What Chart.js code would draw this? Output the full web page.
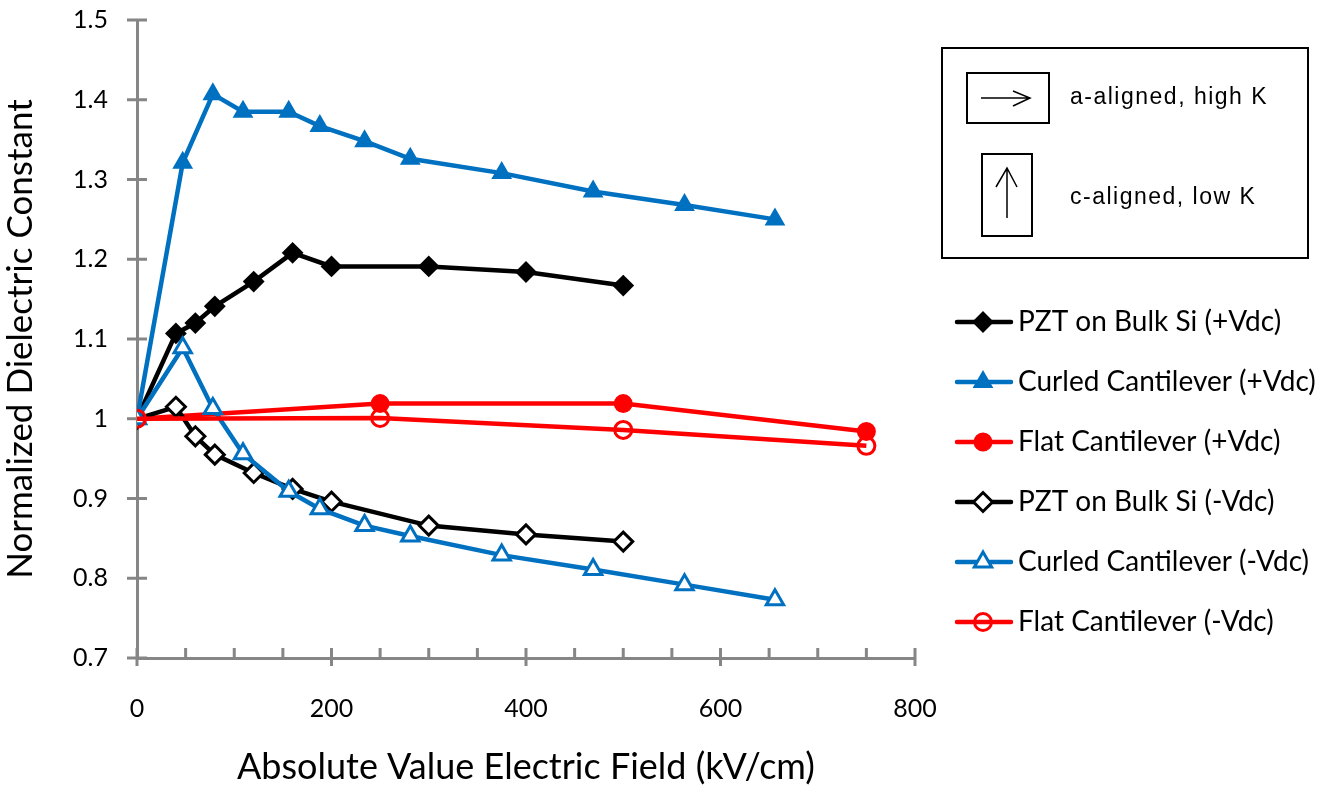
<!DOCTYPE html>
<html>
<head>
<meta charset="utf-8">
<title>Normalized Dielectric Constant</title>
<script src="https://cdn.jsdelivr.net/npm/chart.js@4.4.1/dist/chart.umd.min.js"></script>
<style>
  html, body { margin: 0; padding: 0; background: #fff; }
  #wrap { width: 1337px; height: 789px; }
</style>
</head>
<body>
<div id="wrap"><canvas id="chart" width="1337" height="789"></canvas></div>
<script>
// electric field values (kV/cm) for each sample type
const pztField = [0, 40, 60, 80, 120, 160, 200, 300, 400, 500];
const curledField = [0, 47, 78, 109, 156, 188, 234, 281, 375, 469, 563, 656];
const flatField = [0, 250, 500, 750];

// normalized dielectric constant
const pztPos = [1.0, 1.107, 1.12, 1.141, 1.172, 1.208, 1.191, 1.191, 1.184, 1.167];
const curledPos = [1.0, 1.321, 1.407, 1.385, 1.385, 1.367, 1.348, 1.326, 1.308, 1.285, 1.268, 1.25];
const flatPos = [1.0, 1.019, 1.019, 0.984];
const pztNeg = [1.0, 1.015, 0.978, 0.955, 0.932, 0.912, 0.896, 0.866, 0.855, 0.846];
const curledNeg = [1.0, 1.089, 1.013, 0.956, 0.909, 0.887, 0.866, 0.853, 0.829, 0.811, 0.792, 0.773];
const flatNeg = [1.0, 1.001, 0.986, 0.966];

const seriesNames = [
    "PZT on Bulk Si (+Vdc)",
    "Curled Cantilever (+Vdc)",
    "Flat Cantilever (+Vdc)",
    "PZT on Bulk Si (-Vdc)",
    "Curled Cantilever (-Vdc)",
    "Flat Cantilever (-Vdc)"
];

const boxNotes = ["a-aligned, high K", "c-aligned, low K"];

const xTitle = "Absolute Value Electric Field (kV/cm)";
const yTitle = "Normalized Dielectric Constant";

const BLACK = "#000000";
const BLUE = "#0070C0";
const RED = "#FF0000";
const AXIS = "#868686";
const FONT = "Lato, 'Open Sans', sans-serif";

function toPoints(xs, ys) {
    return xs.map((x, i) => ({ x: x, y: ys[i] }));
}

function makeSet(label, xs, ys, color, style, filled, order) {
    return {
        label: label,
        data: toPoints(xs, ys),
        showLine: true,
        borderColor: color,
        borderWidth: 4.5,
        tension: 0,
        pointStyle: style,
        pointRadius: style === "triangle" ? 10 : (style === "rectRot" ? 9.5 : 8.5),
        pointBorderColor: color,
        pointBorderWidth: filled ? 2 : 3,
        pointBackgroundColor: filled ? color : (style === "circle" ? "rgba(0,0,0,0)" : "#ffffff"),
        order: order
    };
}

const datasets = [
    makeSet(seriesNames[0], pztField, pztPos, BLACK, "rectRot", true, 5),
    makeSet(seriesNames[1], curledField, curledPos, BLUE, "triangle", true, 4),
    makeSet(seriesNames[2], flatField, flatPos, RED, "circle", true, 3),
    makeSet(seriesNames[3], pztField, pztNeg, BLACK, "rectRot", false, 2),
    makeSet(seriesNames[4], curledField, curledNeg, BLUE, "triangle", false, 1),
    makeSet(seriesNames[5], flatField, flatNeg, RED, "circle", false, 0)
];

// tick marks crossing the axes, plus minor ticks on x
const axisTicks = {
    id: "axisTicks",
    beforeDatasetsDraw(chart) {
        const ctx = chart.ctx;
        const xs = chart.scales.x;
        const ys = chart.scales.y;
        const area = chart.chartArea;
        ctx.save();
        ctx.strokeStyle = AXIS;
        ctx.lineWidth = 3;
        ctx.beginPath();
        for (let v = xs.min; v <= xs.max; v += 50) {
            const px = xs.getPixelForValue(v);
            const major = v % 200 === 0;
            ctx.moveTo(px, area.bottom + (major ? 8 : 0));
            ctx.lineTo(px, area.bottom - 10);
        }
        ys.ticks.forEach(t => {
            const py = ys.getPixelForValue(t.value);
            ctx.moveTo(area.left - 10, py);
            ctx.lineTo(area.left + 10, py);
        });
        ctx.stroke();
        ctx.restore();
    }
};

function drawMarker(ctx, ds, x, y) {
    ctx.save();
    ctx.lineWidth = ds.pointBorderWidth;
    ctx.strokeStyle = ds.pointBorderColor;
    ctx.fillStyle = ds.pointBackgroundColor;
    const r = ds.pointRadius;
    ctx.beginPath();
    if (ds.pointStyle === "rectRot") {
        ctx.moveTo(x - r, y);
        ctx.lineTo(x, y - r);
        ctx.lineTo(x + r, y);
        ctx.lineTo(x, y + r);
        ctx.closePath();
    } else if (ds.pointStyle === "triangle") {
        ctx.moveTo(x, y - r);
        ctx.lineTo(x + r * Math.sin(2 * Math.PI / 3), y + r / 2);
        ctx.lineTo(x - r * Math.sin(2 * Math.PI / 3), y + r / 2);
        ctx.closePath();
    } else {
        ctx.arc(x, y, r, 0, Math.PI * 2);
    }
    ctx.fill();
    ctx.stroke();
    ctx.restore();
}

// series legend on the right + the orientation key box
const sideNotes = {
    id: "sideNotes",
    afterDraw(chart) {
        const ctx = chart.ctx;
        ctx.save();

        // series legend
        chart.data.datasets.forEach((ds, i) => {
            const y = 322 + i * 60;
            ctx.strokeStyle = ds.borderColor;
            ctx.lineWidth = 4.5;
            ctx.lineCap = "round";
            ctx.beginPath();
            ctx.moveTo(957, y);
            ctx.lineTo(1011, y);
            ctx.stroke();
            drawMarker(ctx, ds, 983, y);
            ctx.fillStyle = BLACK;
            ctx.font = "28px " + FONT;
            ctx.textBaseline = "middle";
            ctx.textAlign = "left";
            ctx.fillText(ds.label, 1018, y);
        });

        // key box
        ctx.strokeStyle = BLACK;
        ctx.lineWidth = 2;
        ctx.lineCap = "butt";
        ctx.strokeRect(942, 48, 366, 210);
        ctx.strokeRect(967, 73, 82, 50);
        ctx.strokeRect(982, 154, 50, 82);

        ctx.lineWidth = 1.5;
        ctx.beginPath();
        ctx.moveTo(981, 98);
        ctx.lineTo(1030, 98);
        ctx.moveTo(1013, 91);
        ctx.lineTo(1030, 98);
        ctx.lineTo(1013, 106);
        ctx.moveTo(1007, 218);
        ctx.lineTo(1007, 168);
        ctx.moveTo(996, 187);
        ctx.lineTo(1007, 168);
        ctx.lineTo(1017, 187);
        ctx.stroke();

        ctx.fillStyle = BLACK;
        ctx.font = "23px 'Liberation Sans', Arial, sans-serif";
        ctx.letterSpacing = "1.5px";
        ctx.textBaseline = "middle";
        ctx.fillText(boxNotes[0], 1070, 98);
        ctx.fillText(boxNotes[1], 1070, 198);
        ctx.restore();
    }
};

function buildChart() {
    const ctx = document.getElementById("chart").getContext("2d");
    new Chart(ctx, {
        type: "scatter",
        data: { datasets: datasets },
        options: {
            responsive: false,
            animation: false,
            devicePixelRatio: 1,
            layout: { padding: { top: 20, right: 422, left: 0, bottom: 0 } },
            plugins: {
                legend: { display: false },
                tooltip: { enabled: false }
            },
            scales: {
                x: {
                    type: "linear",
                    min: 0,
                    max: 800,
                    afterFit: scale => {
                        scale.height = 131;
                        scale.paddingLeft = 0;
                        scale.paddingRight = 0;
                    },
                    grid: { display: false, drawTicks: false },
                    border: { color: AXIS, width: 3 },
                    ticks: {
                        stepSize: 200,
                        padding: 36,
                        color: BLACK,
                        font: { family: FONT, size: 25 }
                    },
                    title: {
                        display: true,
                        text: xTitle,
                        color: BLACK,
                        font: { family: FONT, size: 36 },
                        padding: { top: 0, bottom: 0 }
                    }
                },
                y: {
                    type: "linear",
                    min: 0.7,
                    max: 1.5,
                    afterFit: scale => {
                        scale.width = 137;
                        scale.paddingTop = 0;
                        scale.paddingBottom = 0;
                    },
                    grid: { display: false, drawTicks: false },
                    border: { color: AXIS, width: 3 },
                    ticks: {
                        stepSize: 0.1,
                        padding: 29,
                        color: BLACK,
                        font: { family: FONT, size: 25 },
                        callback: v => String(Number(v.toFixed(1)))
                    },
                    title: {
                        display: true,
                        text: yTitle,
                        color: BLACK,
                        font: { family: FONT, size: 35 },
                        padding: { top: 0, bottom: 0 }
                    }
                }
            }
        },
        plugins: [axisTicks, sideNotes]
    });
}

document.fonts.load("24px Lato").then(buildChart, buildChart);
</script>
</body>
</html>
